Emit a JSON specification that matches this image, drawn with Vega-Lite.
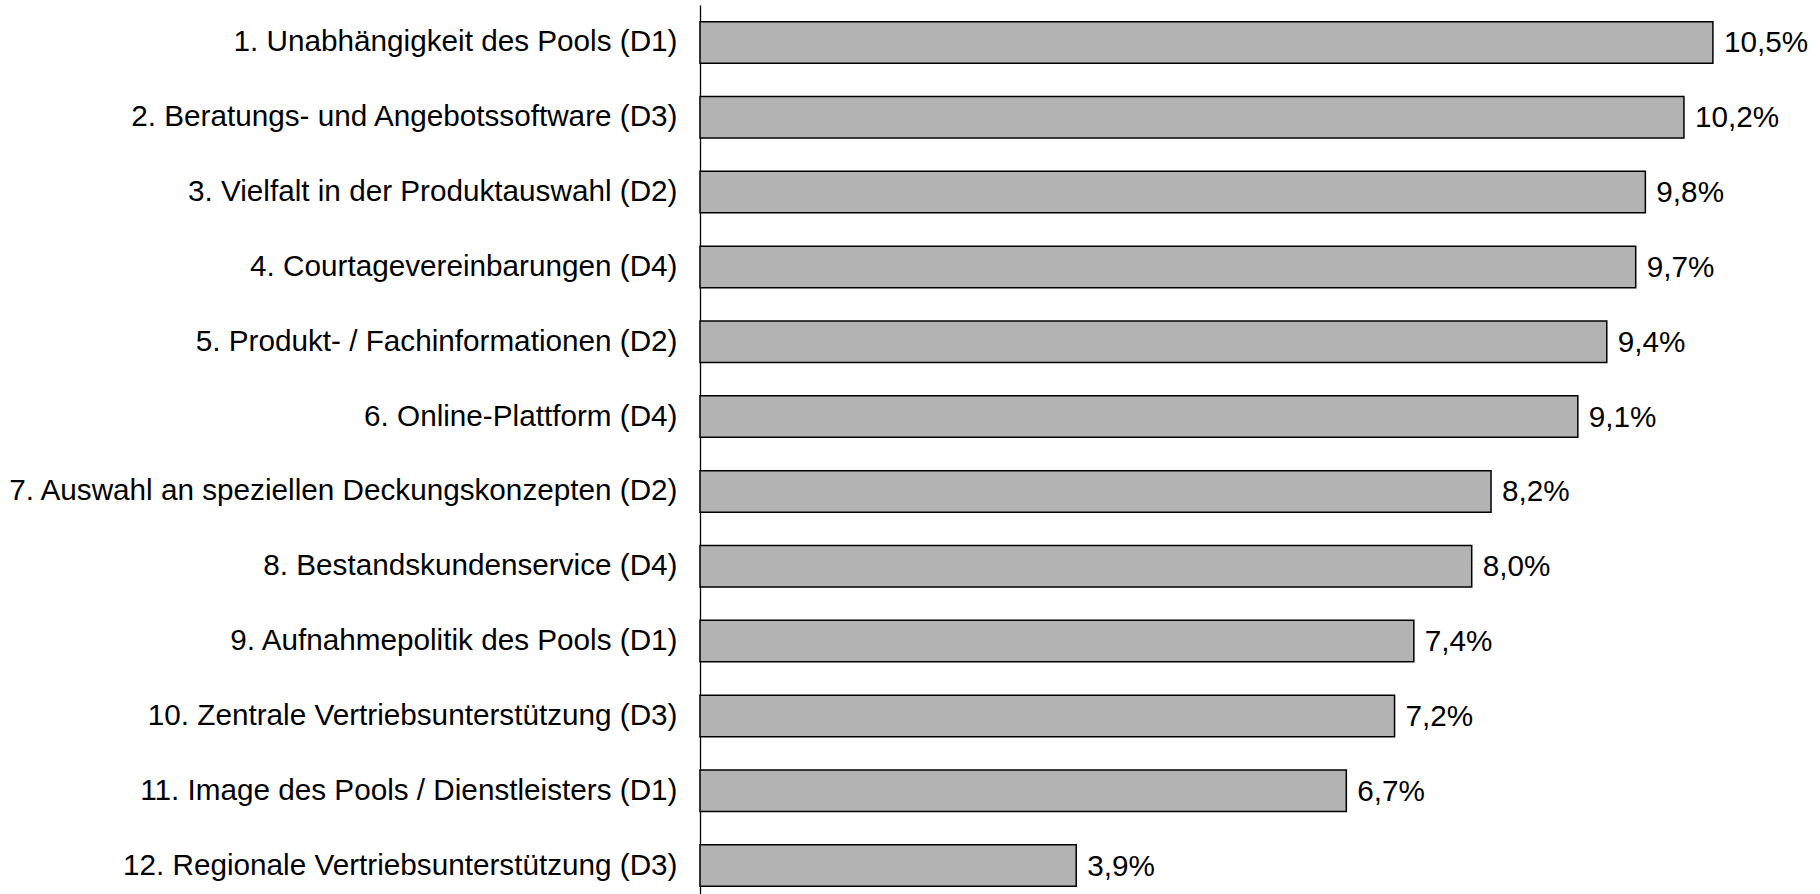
{
  "$schema": "https://vega.github.io/schema/vega-lite/v6.json",
  "width": 1119,
  "height": 898,
  "autosize": {"type": "none"},
  "padding": {"left": 700, "top": 5, "right": 0, "bottom": -9},
  "background": "white",
  "config": {
    "view": {"stroke": null},
    "locale": {"number": {"decimal": ",", "thousands": ".", "grouping": [3], "currency": ["", " €"]}}
  },
  "data": {
    "values": [
      {"item": "1. Unabhängigkeit des Pools (D1)", "value": 0.105},
      {"item": "2. Beratungs- und Angebotssoftware (D3)", "value": 0.102},
      {"item": "3. Vielfalt in der Produktauswahl (D2)", "value": 0.098},
      {"item": "4. Courtagevereinbarungen (D4)", "value": 0.097},
      {"item": "5. Produkt- / Fachinformationen (D2)", "value": 0.094},
      {"item": "6. Online-Plattform (D4)", "value": 0.091},
      {"item": "7. Auswahl an speziellen Deckungskonzepten (D2)", "value": 0.082},
      {"item": "8. Bestandskundenservice (D4)", "value": 0.080},
      {"item": "9. Aufnahmepolitik des Pools (D1)", "value": 0.074},
      {"item": "10. Zentrale Vertriebsunterstützung (D3)", "value": 0.072},
      {"item": "11. Image des Pools / Dienstleisters (D1)", "value": 0.067},
      {"item": "12. Regionale Vertriebsunterstützung (D3)", "value": 0.039}
    ]
  },
  "encoding": {
    "y": {
      "field": "item",
      "type": "nominal",
      "sort": null,
      "scale": {"paddingInner": 0.445, "paddingOuter": 0.2225},
      "axis": {
        "title": null,
        "ticks": false,
        "domain": true,
        "domainColor": "black",
        "domainWidth": 1.3,
        "labelPadding": 23,
        "labelFont": "Liberation Sans",
        "labelFontSize": 29.7,
        "labelColor": "black",
        "labelLimit": 900,
        "grid": false
      }
    },
    "x": {
      "field": "value",
      "type": "quantitative",
      "scale": {"domain": [0, 0.116], "nice": false, "zero": true},
      "axis": null
    }
  },
  "layer": [
    {
      "mark": {"type": "bar", "fill": "#b3b3b3", "stroke": "black", "strokeWidth": 1.5}
    },
    {
      "mark": {"type": "text", "align": "left", "baseline": "middle", "dx": 11, "dy": 1, "font": "Liberation Sans", "fontSize": 29.7, "color": "black"},
      "encoding": {"text": {"field": "value", "type": "quantitative", "format": ".1%"}}
    }
  ]
}
